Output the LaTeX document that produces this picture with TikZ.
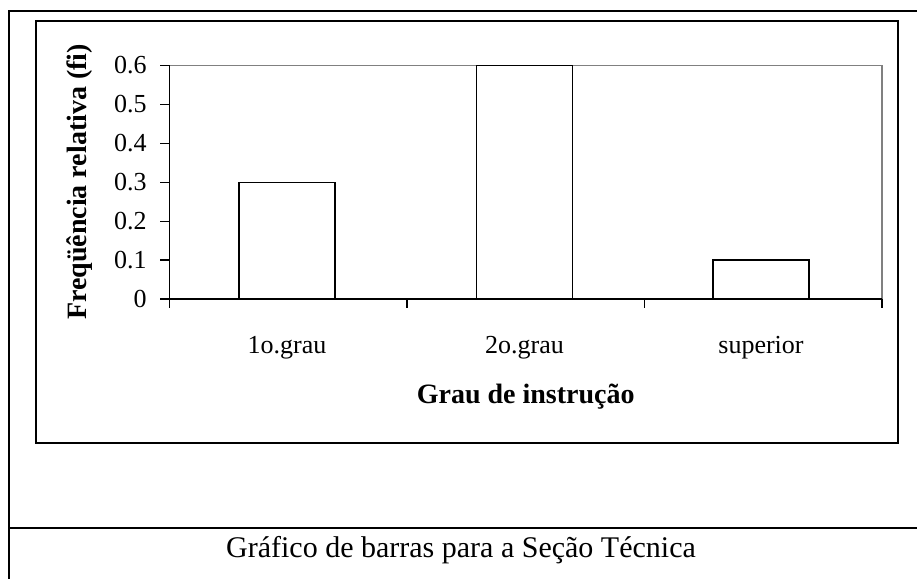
\documentclass[tikz,border=0pt]{standalone}
\usepackage{fontspec}
\setmainfont{Liberation Serif}
\usetikzlibrary{positioning}
\tikzset{%
  frame/.style={draw,line width=1pt},
  bar/.style={draw,line width=0.7pt,fill=white},
  axline/.style={draw,line width=0.6pt},
  ticklab/.style={anchor=east,inner sep=0pt,font=\fontsize{13}{15}\selectfont},
  catlab/.style={anchor=base,inner sep=0pt,font=\fontsize{13}{15}\selectfont},
  axtitle/.style={inner sep=0pt,font=\fontsize{14}{16}\selectfont\bfseries},
  caption/.style={anchor=base,inner sep=0pt,font=\fontsize{15}{17}\selectfont}
}

\begin{document}
\begin{tikzpicture}[x=0.5pt,y=-0.5pt]
	\useasboundingbox (0,0) rectangle (917,579);
	% table cell
	\draw[frame] (917,11) -- (9,11) -- (9,579);
	\draw[frame] (9,528) -- (917,528);
	% chart frame
	\draw[frame,line width=0.9pt] (36,21) rectangle (898,443);
	% plot area
	\coordinate (o) at (169.5,299);
	\coordinate (tr) at (882,65.5);
	\draw[gray,line width=0.6pt] (o |- tr) -- (tr) -- (tr |- o);
	\foreach \i/\lab in {0/0,1/0.1,2/0.2,3/0.3,4/0.4,5/0.5,6/0.6}{
		\draw[axline] (160,299-38.92*\i) -- (169.5,299-38.92*\i);
		\node[ticklab] (y\i) at (147,299-38.92*\i) {\lab};
	}
	\foreach \x in {169.5,407,644.5,882}
		\draw[axline] (\x,299) -- (\x,308);
	% bars
	\foreach \c/\v/\lab [count=\k] in {287/0.3/1o.grau,524.5/0.6/2o.grau,761/0.1/superior}{
		\draw[bar] (\c-48,299) rectangle (\c+48,299-389.2*\v);
		\node[catlab] (cat\k) at (\c,353) {\lab};
	}
	\draw[axline] (o |- tr) -- (o) -- (tr |- o);
	% titles
	\node[axtitle,anchor=base] (xtitle) at (525.75,403) {Grau de instrução};
	\node[axtitle,rotate=90] (ytitle) at (80,182) {Freqüência relativa (fi)};
	\node[caption] (cap) at (461,557) {Gráfico de barras para a Seção Técnica};
\end{tikzpicture}
\end{document}
